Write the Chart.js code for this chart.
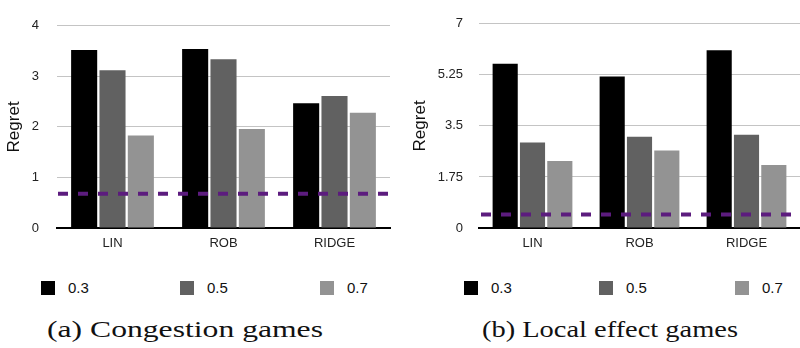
<!DOCTYPE html>
<html>
<head>
<meta charset="utf-8">
<script src="https://cdn.jsdelivr.net/npm/chart.js@4/dist/chart.umd.min.js"></script>
<style>
  body { margin: 0; background: #fff; }
  #wrap { position: relative; width: 800px; height: 348px; background: #fff; overflow: hidden; }
  .panel { position: absolute; top: 0; }
  .key { position: absolute; top: 281px; height: 14px; font: 15px "Liberation Sans", Arial, sans-serif; color: #111; }
  .key span.box { position: absolute; left: 0; top: 0; width: 14px; height: 14px; }
  .key span.txt { position: absolute; left: 27px; top: -2px; line-height: 18px; }
  .caption { position: absolute; top: 316px; font: 24px "Liberation Serif", "DejaVu Serif", serif; color: #111; white-space: nowrap; transform-origin: 0 0; }
</style>
</head>
<body>
<div id="wrap">
  <canvas id="congestion" class="panel" style="left:0px" width="400" height="255"></canvas>
  <canvas id="localEffect" class="panel" style="left:400px" width="400" height="255"></canvas>
  <div id="keys"></div>
  <div id="capA" class="caption">(a) Congestion games</div>
  <div id="capB" class="caption">(b) Local effect games</div>
</div>
<script>
//Shared labels
var methods = ['LIN', 'ROB', 'RIDGE'];
var probs = ['0.3', '0.5', '0.7'];
var barColors = ['#000000', '#616161', '#939393'];
var dashColor = '#5c1c7e';

//Congestion games (left panel)
var congestion03 = [3.52, 3.54, 2.47];
var congestion05 = [3.12, 3.34, 2.61];
var congestion07 = [1.83, 1.96, 2.28];
var congestionBaseline = 0.68;
var congestionTicks = [0, 1, 2, 3, 4];

//Local effect games (right panel)
var local03 = [5.63, 5.19, 6.09];
var local05 = [2.93, 3.13, 3.20];
var local07 = [2.30, 2.66, 2.16];
var localBaseline = 0.46;
var localTicks = [0, 1.75, 3.5, 5.25, 7];

var sans = '"Liberation Sans", Arial, sans-serif';

//Draws the dashed horizontal reference value across the whole plot, using the y scale
var baselinePlugin = {
    id: 'baseline',
    afterDatasetsDraw: function (chart, args, opts) {
        var area = chart.chartArea;
        var y = chart.scales.y.getPixelForValue(opts.value);
        var ctx = chart.ctx;
        ctx.save();
        ctx.strokeStyle = dashColor;
        ctx.lineWidth = 4;
        ctx.setLineDash([10, 10]);
        ctx.beginPath();
        ctx.moveTo(area.left + opts.offset, y);
        ctx.lineTo(area.right, y);
        ctx.stroke();
        ctx.restore();
    }
};

function makeChart(id, series, baseline, ticks, opt) {
    var datasets = [];
    for (var i = 0; i < series.length; i++) {
        datasets.push({
            label: probs[i],
            data: series[i],
            backgroundColor: barColors[i],
            borderWidth: 0,
            categoryPercentage: 0.766,
            barPercentage: 0.92
        });
    }

    var ctx = document.getElementById(id).getContext('2d');
    return new Chart(ctx, {
        type: 'bar',
        data: { labels: methods, datasets: datasets },
        plugins: [baselinePlugin],
        options: {
            responsive: false,
            animation: false,
            layout: { padding: { top: opt.top, right: opt.right, bottom: 0, left: 0 } },
            plugins: {
                legend: { display: false },
                tooltip: { enabled: false },
                baseline: { value: baseline, offset: opt.dashOffset }
            },
            scales: {
                x: {
                    grid: { display: false, drawTicks: false },
                    border: { display: true, color: '#000', width: 2 },
                    ticks: { color: '#222', font: { family: sans, size: 13 }, padding: 8 },
                    afterFit: function (scale) { scale.height = 27; }
                },
                y: {
                    min: ticks[0],
                    max: ticks[ticks.length - 1],
                    afterBuildTicks: function (scale) {
                        scale.ticks = ticks.map(function (v) { return { value: v }; });
                    },
                    grid: { color: '#c4c4c4', lineWidth: 1, drawTicks: false },
                    border: { display: false },
                    ticks: {
                        color: '#222',
                        font: { family: sans, size: 13 },
                        padding: opt.tickPad,
                        callback: function (v) { return String(v); }
                    },
                    title: {
                        display: true,
                        text: 'Regret',
                        color: '#111',
                        font: { family: sans, size: 17 },
                        padding: { top: opt.titlePad, bottom: 0 }
                    },
                    afterFit: function (scale) { scale.width = opt.axisWidth; }
                }
            }
        }
    });
}

makeChart('congestion', [congestion03, congestion05, congestion07], congestionBaseline, congestionTicks,
    { top: 10, right: 10, axisWidth: 57, tickPad: 18, titlePad: 4, dashOffset: 1 });
makeChart('localEffect', [local03, local05, local07], localBaseline, localTicks,
    { top: 17, right: 0, axisWidth: 79, tickPad: 16, titlePad: 10, dashOffset: 2 });

//Legends drawn as plain html under each panel
var keyLefts = [[41, 180, 320], [464, 599, 735]];
var keysDiv = document.getElementById('keys');
for (var p = 0; p < keyLefts.length; p++) {
    for (var k = 0; k < probs.length; k++) {
        var html = "<div class=\"key\" style=\"left:" + keyLefts[p][k] + "px\">" +
                       "<span class=\"box\" style=\"background:" + barColors[k] + "\"></span>" +
                       "<span class=\"txt\">" + probs[k] + "</span>" +
                   "</div>";
        keysDiv.insertAdjacentHTML('beforeend', html);
    }
}

//Stretch the captions to the width they have in the figure
function fitCaption(id, left, width) {
    var el = document.getElementById(id);
    var w = el.getBoundingClientRect().width;
    el.style.left = left + 'px';
    el.style.transform = 'scaleX(' + (width / w) + ')';
}
fitCaption('capA', 47, 276);
fitCaption('capB', 482, 256);
</script>
</body>
</html>
